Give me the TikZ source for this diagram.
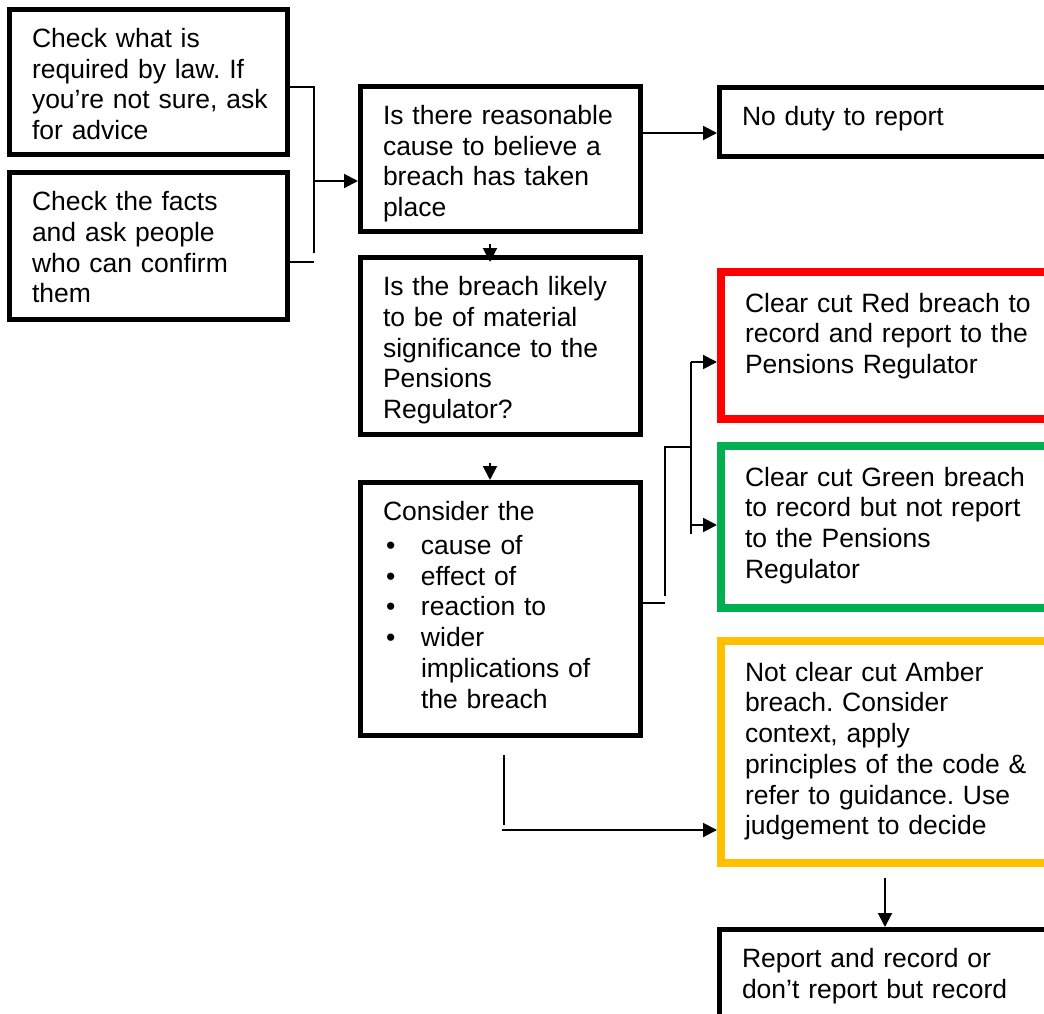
\documentclass[tikz,border=0pt]{standalone}
\usepackage{fontspec}
\setmainfont{Liberation Sans}
\usetikzlibrary{arrows.meta,calc}
\definecolor{BRed}{HTML}{FF0000}
\definecolor{BGreen}{HTML}{00B050}
\definecolor{BAmber}{HTML}{FFC000}
\frenchspacing

\begin{document}
\begin{tikzpicture}[x=1pt, y=-1pt,
        font=\fontsize{26.5}{30.75}\selectfont,
        stage/.style={draw, line width=5pt, anchor=north west, align=left,
            inner xsep=22.5pt, inner ysep=17pt, text height=21pt},
        flag/.style={stage, draw=#1, line width=8pt, inner xsep=24pt,
            inner ysep=19pt, text width=292pt},
        link/.style={line width=2pt},
        go/.style={link, -{Triangle[length=14pt,width=14pt]}}]
        \useasboundingbox (0,0) rectangle (1044,1014);

        % left column
        \node[stage, text width=233pt, text depth=90pt] (law) at (7,7)
            {Check what is\\required by law. If\\\mbox{you’re not sure, ask}\\for advice};
        \node[stage, text width=233pt, text depth=92pt] (facts) at (7,170)
            {Check the facts\\and ask people\\who can confirm\\them};

        % middle column
        \node[stage, text width=235pt, text depth=90pt] (cause) at (358,84)
            {Is there reasonable\\cause to believe a\\breach has taken\\place};
        \node[stage, text width=235pt, text depth=122pt] (signif) at (358,255)
            {Is the breach likely\\to be of material\\significance to the\\Pensions\\Regulator?};
        \node[stage, text width=235pt, text depth=198pt] (consider) at (358,480)
            {Consider the\\[3pt]
            \hspace*{3pt}\makebox[35pt][l]{•}cause of\\
            \hspace*{3pt}\makebox[35pt][l]{•}effect of\\
            \hspace*{3pt}\makebox[35pt][l]{•}reaction to\\
            \hspace*{3pt}\makebox[35pt][l]{•}wider\\
            \hspace*{38pt}implications of\\
            \hspace*{38pt}the breach};

        % right column
        \node[stage, text width=295pt, text depth=14pt] (noduty) at (717,85)
            {No duty to report};
        \node[flag=BRed, text depth=88pt] (red) at (717,268)
            {Clear cut Red breach to\\record and report to the\\Pensions Regulator};
        \node[flag=BGreen, text depth=103pt] (green) at (717,442)
            {Clear cut Green breach\\to record but not report\\to the Pensions\\Regulator};
        \node[flag=BAmber, text depth=163pt] (amber) at (717,637)
            {Not clear cut Amber\\breach. Consider\\context, apply\\principles of the code \&\\refer to guidance. Use\\judgement to decide};
        \node[stage, text width=295pt, text depth=65pt] (report) at (717,927)
            {Report and record or\\don’t report but record};

        % connectors
        \coordinate (lawtap) at (314,87);
        \coordinate (lawfoot) at (314,253);
        \coordinate (factstap) at (314,262);
        \coordinate (join) at (314,181);
        \draw[link] (law.east |- lawtap) -- (lawtap) -- (lawfoot);
        \draw[link] (facts.east |- factstap) -- (factstap);
        \draw[go] (join) -- (join -| cause.west);

        \coordinate (dutyrow) at (643,133);
        \draw[go] (cause.east |- dutyrow) -- (dutyrow -| noduty.west);

        \coordinate (drop) at (490,244);
        \draw[go, shorten >=-7pt] (drop) -- (drop |- signif.north);
        \coordinate (dropb) at (490,463);
        \draw[go] (dropb) -- (dropb |- consider.north);

        \coordinate (fork) at (665,603);
        \coordinate (forkup) at (665,447);
        \coordinate (split) at (691,447);
        \coordinate (tored) at (691,362);
        \coordinate (togreen) at (691,525);
        \draw[link] (consider.east |- fork) -- (fork);
        \draw[link] ($(fork)+(0,-7)$) -- (forkup) -- (split);
        \draw[link] (tored) -- ($(togreen)+(0,9)$);
        \draw[go] (tored) -- (tored -| red.west);
        \draw[go] (togreen) -- (togreen -| green.west);

        \coordinate (late) at (504,755);
        \coordinate (lateturn) at (504,830);
        \draw[link] (late) -- ($(lateturn)+(0,-5)$);
        \draw[go] ($(lateturn)+(-2,0)$) -- (lateturn -| amber.west);

        \coordinate (fin) at (885,878);
        \draw[go] (fin) -- (fin |- report.north);
\end{tikzpicture}
\end{document}
